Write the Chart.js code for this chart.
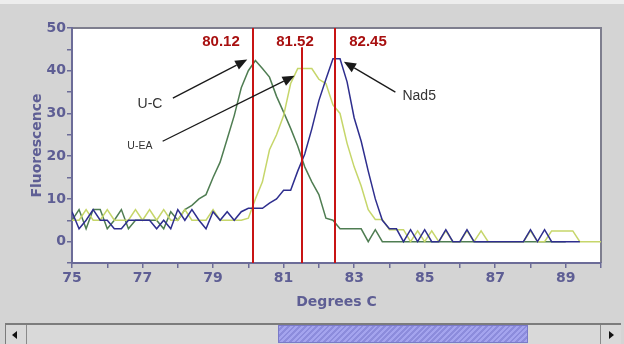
<!DOCTYPE html>
<html>
<head>
<meta charset="utf-8">
<script src="https://cdn.jsdelivr.net/npm/chart.js@4/dist/chart.umd.min.js"></script>
<style>
  html, body { margin: 0; padding: 0; background: #d4d4d4; }
  #wrap { position: relative; width: 624px; height: 344px; overflow: hidden; }
  #chart { position: absolute; left: 0; top: 0; }
  #sb { position: absolute; left: 5px; top: 323px; width: 615px; height: 19px;
        background: #d9d9d9; border-top: 2px solid #7c7c7c; border-left: 1px solid #7c7c7c; }
  .btn { position: absolute; top: 0; width: 20px; height: 19px; background: #d9d9d9; }
  .btn.l { left: 0; border-right: 1px solid #8a8a8a; }
  .btn.r { right: 0; border-left: 1px solid #8a8a8a; }
  .tri { position: absolute; top: 6px; width: 0; height: 0; border-top: 4px solid transparent; border-bottom: 4px solid transparent; }
  .btn.l .tri { left: 6px; border-right: 5px solid #111; }
  .btn.r .tri { left: 8px; border-left: 5px solid #111; }
  #thumb { position: absolute; left: 272px; top: 0; width: 250px; height: 18px;
           border: 1px solid #7a7ac8; box-sizing: border-box;
           background: repeating-linear-gradient(135deg, #a4a4ee 0 2px, #8c8cdc 2px 4px); }
</style>
</head>
<body>
<div id="wrap">
  <canvas id="chart" width="624" height="344"></canvas>
  <div id="sb">
    <div class="btn l"><div class="tri"></div></div>
    <div id="thumb"></div>
    <div class="btn r"><div class="tri"></div></div>
  </div>
</div>
<script>
// Temperatures (Degrees C)
const temps = [
  75.0, 75.2, 75.4, 75.6, 75.8, 76.0, 76.2, 76.4, 76.6, 76.8,
  77.0, 77.2, 77.4, 77.6, 77.8, 78.0, 78.2, 78.4, 78.6, 78.8,
  79.0, 79.2, 79.4, 79.6, 79.8, 80.0, 80.2, 80.4, 80.6, 80.8,
  81.0, 81.2, 81.4, 81.6, 81.8, 82.0, 82.2, 82.4, 82.6, 82.8,
  83.0, 83.2, 83.4, 83.6, 83.8, 84.0, 84.2, 84.4, 84.6, 84.8,
  85.0, 85.2, 85.4, 85.6, 85.8, 86.0, 86.2, 86.4, 86.6, 86.8,
  87.0, 87.2, 87.4, 87.6, 87.8, 88.0, 88.2, 88.4, 88.6, 88.8,
  89.0, 89.2, 89.4, 89.6, 89.8, 90.0
];

// Fluorescence per sample
const nad5 = [
  7, 3, 5, 7.5, 5, 5, 3, 3, 5, 5,
  5, 5, 3, 5, 3, 7.5, 5, 7.5, 5, 3,
  7, 5, 7, 5, 7, 7.8, 7.8, 7.8, 9, 10,
  12, 12, 16.5, 20.5, 26.4, 33, 38, 42.8, 42.8, 37.4,
  29, 23.5, 16.5, 10, 5, 3, 3, 0, 2.8, 0,
  2.8, 0, 0, 2.8, 0, 0, 2.8, 0, 0, 0,
  0, 0, 0, 0, 0, 2.8, 0, 2.8, 0, 0,
  0, 0, 0, null, null, null
];
const uea = [
  5, 5, 7.5, 5, 5, 7.5, 5, 5, 5, 7.5,
  5, 7.5, 5, 7.5, 5, 5, 7.5, 5, 5, 5,
  7.5, 5, 5, 5, 5, 5.5, 10, 14, 21.5, 25,
  29.5, 37, 40.5, 40.5, 40.5, 38, 37, 32, 30, 23,
  17.5, 13, 7.5, 5.2, 5.2, 2.8, 2.8, 2.8, 0, 2.5,
  0, 2.5, 0, 2.5, 0, 0, 2.5, 0, 2.5, 0,
  0, 0, 0, 0, 0, 2.5, 0, 0, 2.5, 2.5,
  2.5, 2.5, 0, 0, 0, 0
];
const uc = [
  5, 7.5, 3, 7.5, 7.5, 3, 5, 7.5, 3, 5,
  5, 5, 5, 3, 7, 5, 7.5, 8.5, 10, 11,
  15, 18.6, 24, 29.5, 36, 40, 42.4, 40.5, 38.5, 34,
  30.3, 26.5, 22.4, 17.5, 14, 11, 5.5, 5, 3, 3,
  3, 3, 0, 2.8, 0, 0, 0, 0, 0, 0,
  0, 0, 0, 0, 0, 0, 0, 0, 0, 0,
  0, 0, 0, 0, 0, 0, 0, 0, 0, 0,
  0, null, null, null, null, null
];

// Melting peaks: [temp, top of marker line]
const peakTemps = [80.12, 81.52, 82.45];
const peakTops = [50, 45.5, 50];
const peakLabels = ["80.12", "81.52", "82.45"];

// Labels with arrows: text position, arrow start, arrow tip (data units)
const notes = [
  { text: "U-C", size: 14, tx: 76.86, ty: 32.2, ax: 77.86, ay: 33.6, bx: 79.97, by: 42.6 },
  { text: "U-EA", size: 10.5, tx: 76.57, ty: 22.3, ax: 77.57, ay: 23.5, bx: 81.31, by: 38.8 },
  { text: "Nad5", size: 14, tx: 84.37, ty: 34.1, ax: 84.17, ay: 35.0, bx: 82.71, by: 42.1 }
];

const axisColor = "#6c6c98";
const tickColor = "#5e5e94";
const tickFont = { family: "DejaVu Sans", size: 14, weight: "bold" };

function toPoints(values) {
  return temps.map((t, i) => ({ x: t, y: values[i] }));
}

const backdrop = {
  id: "backdrop",
  beforeDraw(chart) {
    const { ctx, chartArea: a } = chart;
    ctx.save();
    ctx.fillStyle = "#d4d4d4";
    ctx.fillRect(0, 0, chart.width, chart.height);
    ctx.fillStyle = "#ededed";
    ctx.fillRect(0, 0, chart.width, 4);
    ctx.fillStyle = "#ffffff";
    ctx.fillRect(a.left, a.top, a.right - a.left, a.bottom - a.top);
    ctx.strokeStyle = "#7e7e8e";
    ctx.lineWidth = 2;
    ctx.beginPath();
    ctx.moveTo(a.left, a.top);
    ctx.lineTo(a.right, a.top);
    ctx.lineTo(a.right, a.bottom);
    ctx.stroke();
    ctx.restore();
  }
};

const markers = {
  id: "markers",
  afterDatasetsDraw(chart) {
    const { ctx, scales: { x, y }, chartArea: a } = chart;
    ctx.save();
    // red peak lines and labels
    ctx.strokeStyle = "#c81414";
    ctx.lineWidth = 2;
    ctx.fillStyle = "#a81010";
    ctx.font = "bold 15px 'Liberation Sans'";
    ctx.textBaseline = "middle";
    ctx.textAlign = "center";
    peakTemps.forEach((t, i) => {
      const px = Math.round(x.getPixelForValue(t));
      ctx.beginPath();
      ctx.moveTo(px, y.getPixelForValue(peakTops[i]));
      ctx.lineTo(px, a.bottom);
      ctx.stroke();
      const off = i === 0 ? -32 : (i === 1 ? -7 : 33);
      ctx.fillText(peakLabels[i], px + off, a.top + 14);
    });
    // arrows with labels
    ctx.strokeStyle = "#1a1a1a";
    ctx.fillStyle = "#1a1a1a";
    ctx.lineWidth = 1.3;
    notes.forEach(n => {
      const x1 = x.getPixelForValue(n.ax), y1 = y.getPixelForValue(n.ay);
      const x2 = x.getPixelForValue(n.bx), y2 = y.getPixelForValue(n.by);
      const ang = Math.atan2(y2 - y1, x2 - x1);
      const hl = 12, hw = 5;
      const bxp = x2 - hl * Math.cos(ang), byp = y2 - hl * Math.sin(ang);
      ctx.beginPath();
      ctx.moveTo(x1, y1);
      ctx.lineTo(bxp, byp);
      ctx.stroke();
      ctx.beginPath();
      ctx.moveTo(x2, y2);
      ctx.lineTo(bxp + hw * Math.sin(ang), byp - hw * Math.cos(ang));
      ctx.lineTo(bxp - hw * Math.sin(ang), byp + hw * Math.cos(ang));
      ctx.closePath();
      ctx.fill();
      ctx.fillStyle = "#333";
      ctx.font = n.size + "px 'Liberation Sans'";
      ctx.textAlign = "left";
      ctx.fillText(n.text, x.getPixelForValue(n.tx), y.getPixelForValue(n.ty));
      ctx.fillStyle = "#1a1a1a";
    });
    ctx.restore();
  }
};

new Chart(document.getElementById("chart").getContext("2d"), {
  type: "line",
  data: {
    datasets: [
      { label: "Nad5", data: toPoints(nad5), borderColor: "#2e2e8e" },
      { label: "U-EA", data: toPoints(uea), borderColor: "#c6d66a" },
      { label: "U-C", data: toPoints(uc), borderColor: "#4f7d52" }
    ]
  },
  options: {
    responsive: false,
    animation: false,
    layout: { padding: { left: 0, top: 28, right: 23, bottom: 0 } },
    elements: {
      point: { radius: 0 },
      line: { borderWidth: 1.5, tension: 0, fill: false }
    },
    plugins: {
      legend: { display: false },
      tooltip: { enabled: false }
    },
    scales: {
      x: {
        type: "linear",
        min: 75,
        max: 90,
        afterFit: axis => { axis.height = 81; },
        border: { color: axisColor, width: 2 },
        grid: { drawOnChartArea: false, color: axisColor, tickLength: 5, lineWidth: 1.5 },
        ticks: {
          stepSize: 1,
          autoSkip: false,
          maxRotation: 0,
          padding: 2,
          color: tickColor,
          font: tickFont,
          callback: v => (v % 2 === 1 ? v : "")
        },
        title: { display: true, text: "Degrees C", color: tickColor, font: tickFont, padding: { bottom: 33 } }
      },
      y: {
        min: -5,
        max: 50,
        afterFit: axis => { axis.width = 72; },
        border: { color: axisColor, width: 2 },
        grid: { drawOnChartArea: false, color: axisColor, tickLength: 5, lineWidth: 1.5 },
        ticks: {
          stepSize: 5,
          padding: 1,
          color: tickColor,
          font: tickFont,
          callback: v => (v >= 0 && v % 10 === 0 ? v : "")
        },
        title: { display: true, text: "Fluorescence", color: tickColor, font: tickFont, padding: { top: 29 } }
      }
    }
  },
  plugins: [backdrop, markers]
});
</script>
</body>
</html>
